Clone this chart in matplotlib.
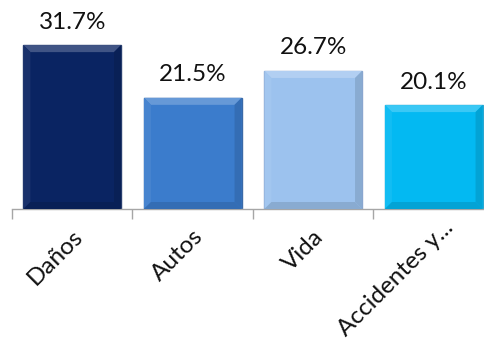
import matplotlib
matplotlib.use("Agg")
import matplotlib.pyplot as plt
import matplotlib.transforms as mtransforms
from matplotlib.patches import Polygon
from matplotlib.colors import to_rgb
import numpy as np

categories = ["Daños", "Autos", "Vida", "Accidentes y..."]
values = [31.7, 21.5, 26.7, 20.1]
labels = ["31.7%", "21.5%", "26.7%", "20.1%"]
colors = ["#0a2462", "#3b7ccc", "#9cc2ee", "#03b9f2"]
edges = ["#2a4070", "#3a6aa8", "#8aa6cf", "#2aa6d0"]

W, H = 485, 343
fig = plt.figure(figsize=(W / 100, H / 100), dpi=100)
left, right, bottom, top = 12, 494, 209, 0
ax = fig.add_axes([left / W, (H - bottom) / H, (right - left) / W, (bottom - top) / H])

x = np.arange(len(categories))
bw = 0.81
bars = ax.bar(x, values, width=bw, color=colors, edgecolor=edges, linewidth=1.0, zorder=2)

ax.set_xlim(-0.5, 3.5)
ax.set_ylim(0, 209 / 5.17)

# bevel effect
px_x = 1 / 120.5
px_y = 1 / 5.17
b = 7


def mix(c, t, f):
    c = np.array(to_rgb(c)); t = np.array(to_rgb(t))
    return tuple(c * (1 - f) + t * f)


for xi, v, c in zip(x, values, colors):
    l, r = xi - bw / 2, xi + bw / 2
    dx, dy = b * px_x, b * px_y
    topp = Polygon([(l, v), (r, v), (r - dx, v - dy), (l + dx, v - dy)], closed=True,
                   facecolor=mix(c, "white", 0.22), edgecolor="none", zorder=3)
    lp = Polygon([(l, v), (l + dx, v - dy), (l + dx, dy), (l, 0)], closed=True,
                 facecolor=mix(c, "white", 0.06), edgecolor="none", zorder=3)
    rp = Polygon([(r, v), (r - dx, v - dy), (r - dx, dy), (r, 0)], closed=True,
                 facecolor=mix(c, "black", 0.12), edgecolor="none", zorder=3)
    bp = Polygon([(l, 0), (l + dx, dy), (r - dx, dy), (r, 0)], closed=True,
                 facecolor=mix(c, "black", 0.12), edgecolor="none", zorder=3)
    for p in (topp, lp, rp, bp):
        ax.add_patch(p)

for xi, v, lab in zip(x, values, labels):
    ax.annotate(lab, (xi, v), xytext=(0, 9), textcoords="offset points",
                ha="center", va="bottom", fontsize=17.5, family="Lato", color="#111111")

for s in ["top", "left", "right"]:
    ax.spines[s].set_visible(False)
ax.spines["bottom"].set_color("#a6a6a6")
ax.spines["bottom"].set_linewidth(1.0)
ax.set_yticks([])

ax.set_xticks(x)
ax.set_xticklabels(categories, rotation=45, ha="right", va="top",
                   rotation_mode="anchor", fontsize=17.5, family="Lato", color="#111111")
ax.tick_params(axis="x", which="major", length=0, pad=12)
ax.set_xticks(np.arange(-0.5, 4.0, 1.0), minor=True)
ax.tick_params(axis="x", which="minor", length=7, color="#a6a6a6", width=1.0)

tl = ax.get_xticklabels()
off = mtransforms.ScaledTranslation(9 / 100, 9 / 100, fig.dpi_scale_trans)
tl[3].set_transform(tl[3].get_transform() + off)

fig.savefig("out.png", dpi=100)
